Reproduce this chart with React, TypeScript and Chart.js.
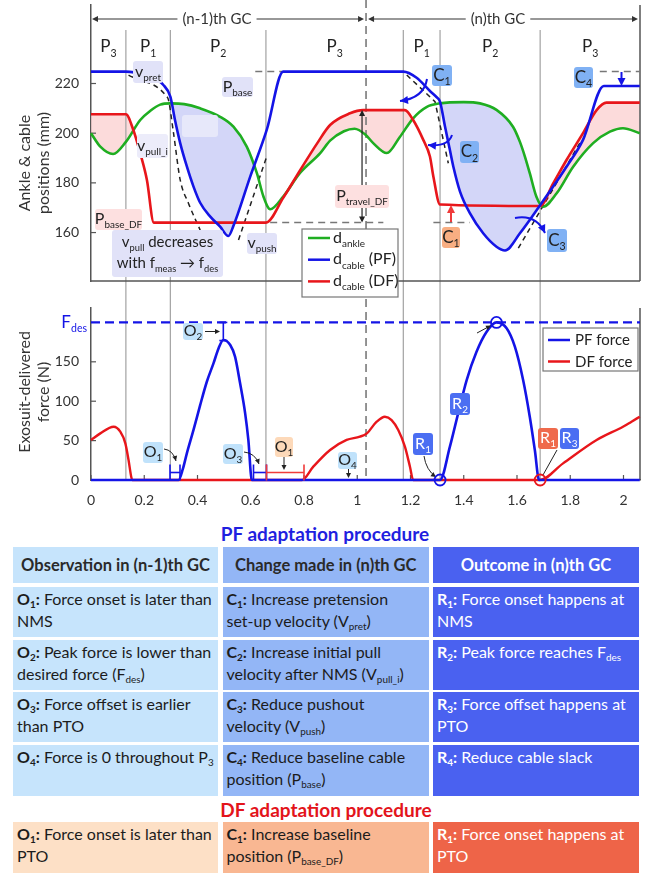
import React, { useEffect, useRef } from 'react';
import { Chart, registerables } from 'chart.js';

Chart.register(...registerables);

const FONT = 'Lato, "Noto Sans", sans-serif';

// ---------------- data ----------------
const timeMax = 2.062;
const timeTicks = [0, 0.2, 0.4, 0.6, 0.8, 1, 1.2, 1.4, 1.6, 1.8, 2];
const posTicks = [160, 180, 200, 220];
const forceTicks = [0, 50, 100, 150];
const posRange = [140.5, 251.6];
const forceRange = [0, 218.3];
const phaseBounds = [0.131, 0.298, 0.657, 1.173, 1.311, 1.687];
const phaseNums = ['3', '1', '2', '3', '1', '2', '3'];
const gcSplit = 1.033;
const fDes = 200;
const peakTime = 1.523;

const ankleT = [0, 0.035, 0.083, 0.131, 0.185, 0.223, 0.26, 0.298, 0.35, 0.41, 0.485, 0.535, 0.585, 0.623, 0.648, 0.673, 0.722, 0.785, 0.861, 0.898, 0.95, 0.99, 1.03, 1.06, 1.111, 1.16, 1.21, 1.26, 1.311, 1.4, 1.461, 1.523, 1.585, 1.611, 1.63, 1.648, 1.673, 1.698, 1.749, 1.811, 1.886, 1.949, 1.998, 2.061];
const ankleMm = [200, 194.6, 191.6, 196.5, 205.3, 209, 211.5, 212, 211.7, 210, 206.6, 202.6, 194.6, 183.9, 174.4, 169.4, 174.5, 184, 192, 197, 200.8, 201.8, 199.5, 196, 192, 198.5, 206, 210.5, 212, 212.5, 212, 209.4, 202.6, 196.5, 190.5, 183.9, 174.4, 170.4, 175.8, 186.5, 196, 200.6, 202, 200];

const pfCableT = [0, 0.131, 0.2, 0.25, 0.271, 0.298, 0.316, 0.335, 0.36, 0.385, 0.41, 0.448, 0.485, 0.516, 0.534, 0.598, 0.66, 0.722, 1.173, 1.223, 1.273, 1.298, 1.311, 1.329, 1.348, 1.361, 1.386, 1.423, 1.473, 1.523, 1.555, 1.611, 1.692, 1.786, 1.848, 1.926, 2.061];
const pfCableMm = [224.8, 224.8, 223.5, 221.3, 219.5, 214.7, 205, 196, 186.6, 178.5, 172, 166.4, 162.4, 158.6, 162.4, 182.5, 201.3, 224.8, 224.8, 222.3, 217, 214.5, 212.6, 203, 193.2, 186.5, 176.5, 167.8, 159.7, 154.3, 152.8, 159.7, 171.8, 186.5, 197.3, 219, 219];

const dfCableT = [0, 0.131, 0.159, 0.185, 0.21, 0.236, 0.657, 0.722, 0.785, 0.85, 0.898, 0.973, 1.022, 1.179, 1.21, 1.248, 1.273, 1.286, 1.311, 1.686, 1.736, 1.786, 1.848, 1.899, 1.936, 2.061];
const dfCableMm = [207.6, 207.6, 201.3, 191.9, 181.2, 164, 164, 174, 185, 196, 203.3, 208, 209.3, 209.3, 205.3, 197.3, 190.6, 182.5, 171.3, 170.7, 179.8, 189.2, 200, 209.3, 212.3, 212.3];

// alternative (dashed) cable trajectories
const pullAltT = [0.141, 0.285, 0.291, 0.31, 0.335, 0.366, 0.41];
const pullAltMm = [223.4, 214.7, 213.4, 200, 181.2, 171.8, 161];
const pushAltT = [0.554, 0.66];
const pushAltMm = [157, 190.6];
const pretAltNT = [1.186, 1.292, 1.342];
const pretAltNMm = [223.4, 212.7, 187.9];
const pushAltNT = [1.605, 1.836];
const pushAltNMm = [153.7, 196];

// reference (baseline) dashed lines
const basePfPrevT = [0.617, 0.722];
const basePfNT = [1.911, 2.061];
const basePfMm = [224.8, 224.8];
const baseDfPrevT = [0.673, 1.098];
const baseDfNT = [1.286, 1.423];
const baseDfMm = [164, 164];

const pfForceT = [0, 0.329, 0.345, 0.36, 0.385, 0.41, 0.435, 0.46, 0.479, 0.497, 0.523, 0.541, 0.56, 0.579, 0.591, 0.604, 1.311, 1.348, 1.379, 1.411, 1.448, 1.486, 1.523, 1.561, 1.592, 1.623, 1.648, 1.667, 1.683, 2.061];
const pfForceN = [0, 0, 14, 33.8, 63.5, 95, 124.7, 148, 167, 177.7, 171.3, 156.5, 122.7, 84.6, 50.8, 0, 0, 42.3, 84.6, 126.9, 162.8, 188.2, 200, 192.5, 169.2, 126.9, 80.3, 38, 0, 0];

const dfForceT = [0, 0.035, 0.085, 0.11, 0.129, 0.141, 0.151, 0.155, 0.792, 0.835, 0.898, 0.96, 1.01, 1.036, 1.073, 1.104, 1.129, 1.154, 1.179, 1.198, 1.21, 1.686, 1.773, 1.899, 1.998, 2.03, 2.061];
const dfForceN = [50.8, 59.2, 67.6, 61.3, 46.5, 25.4, 4.2, 0, 0, 16.9, 38, 50.8, 55, 59.2, 74, 80.3, 76.1, 63.5, 42.3, 16.9, 0, 0, 21.1, 50.8, 67.6, 74, 80.3];

const fDesT = [0, timeMax];
const fDesN = [fDes, fDes];

// ---------------- styles ----------------
const BLUE = '#1414e6';
const RED = '#e8161b';
const GREEN = '#1fae21';
const GRAY = '#555';
const LAV = '#e1e2f8';
const PINKBOX = '#fde0e0';
const CBLUE = '#80b1f4';
const CORANGE = '#f8ae82';
const OBLUE = '#c0e2fb';
const OORANGE = '#fdd9b9';
const RBLUE = '#4b6ef2';
const RORANGE = '#ef6a4c';

const pts = (ts: number[], vs: number[]) => ts.map((t, i) => ({ x: t, y: vs[i] }));

type Seg = [string, number?];

function seg(ctx: CanvasRenderingContext2D, x1: number, y1: number, x2: number, y2: number) {
  ctx.beginPath();
  ctx.moveTo(x1, y1);
  ctx.lineTo(x2, y2);
  ctx.stroke();
}
function head(ctx: CanvasRenderingContext2D, x: number, y: number, ang: number, size: number, color: string) {
  ctx.save();
  ctx.fillStyle = color;
  ctx.translate(x, y);
  ctx.rotate(ang);
  ctx.beginPath();
  ctx.moveTo(0, 0);
  ctx.lineTo(-size, -size * 0.5);
  ctx.lineTo(-size, size * 0.5);
  ctx.closePath();
  ctx.fill();
  ctx.restore();
}
function arrow(ctx: CanvasRenderingContext2D, x1: number, y1: number, x2: number, y2: number, color: string, w = 1.2, size = 6) {
  ctx.save();
  ctx.strokeStyle = color;
  ctx.lineWidth = w;
  const a = Math.atan2(y2 - y1, x2 - x1);
  seg(ctx, x1, y1, x2 - Math.cos(a) * size * 0.7, y2 - Math.sin(a) * size * 0.7);
  head(ctx, x2, y2, a, size, color);
  ctx.restore();
}
function curveArrow(ctx: CanvasRenderingContext2D, x1: number, y1: number, cx: number, cy: number, x2: number, y2: number, color: string, w = 1.2, size = 6) {
  ctx.save();
  ctx.strokeStyle = color;
  ctx.lineWidth = w;
  ctx.beginPath();
  ctx.moveTo(x1, y1);
  ctx.quadraticCurveTo(cx, cy, x2, y2);
  ctx.stroke();
  head(ctx, x2, y2, Math.atan2(y2 - cy, x2 - cx), size, color);
  ctx.restore();
}
function box(ctx: CanvasRenderingContext2D, x: number, y: number, w: number, h: number, fill: string, r = 3) {
  ctx.save();
  ctx.fillStyle = fill;
  ctx.beginPath();
  (ctx as any).roundRect(x, y, w, h, r);
  ctx.fill();
  ctx.restore();
}
function rich(ctx: CanvasRenderingContext2D, segs: Seg[], x: number, cy: number, size: number, color: string, align: 'left' | 'center' | 'right' = 'center', weight = 'normal') {
  const sub = size * 0.62;
  const fonts = segs.map((s) => `${weight} ${s[1] ? sub : size}px ${FONT}`);
  let total = 0;
  const ws = segs.map((s, i) => {
    ctx.font = fonts[i];
    const w = ctx.measureText(s[0]).width;
    total += w;
    return w;
  });
  let x0 = align === 'center' ? x - total / 2 : align === 'right' ? x - total : x;
  const base = cy + size * 0.36;
  ctx.save();
  ctx.fillStyle = color;
  ctx.textAlign = 'left';
  ctx.textBaseline = 'alphabetic';
  segs.forEach((s, i) => {
    ctx.font = fonts[i];
    ctx.fillText(s[0], x0, s[1] ? base + size * 0.26 : base);
    x0 += ws[i];
  });
  ctx.restore();
  return total;
}
function tag(ctx: CanvasRenderingContext2D, x: number, y: number, w: number, h: number, fill: string, segs: Seg[], size: number, color = '#222') {
  box(ctx, x, y, w, h, fill);
  rich(ctx, segs, x + w / 2, y + h / 2 - 1, size, color);
}
function ibeamH(ctx: CanvasRenderingContext2D, x1: number, x2: number, y: number, half: number, color: string) {
  ctx.save();
  ctx.strokeStyle = color;
  ctx.lineWidth = 1.6;
  seg(ctx, x1, y, x2, y);
  seg(ctx, x1, y - half, x1, y + half);
  seg(ctx, x2, y - half, x2, y + half);
  ctx.restore();
}
function vText(ctx: CanvasRenderingContext2D, text: string, x: number, y: number, size: number) {
  ctx.save();
  ctx.translate(x, y);
  ctx.rotate(-Math.PI / 2);
  ctx.font = `${size}px ${FONT}`;
  ctx.fillStyle = '#333';
  ctx.textAlign = 'center';
  ctx.textBaseline = 'middle';
  ctx.fillText(text, 0, 0);
  ctx.restore();
}

const annotations = {
  id: 'annotations',
  beforeDatasetsDraw(chart: any) {
    const { ctx, chartArea: ca, scales } = chart;
    const xs = scales.x;
    const yP = scales.yPos;
    const yF = scales.yF;
    ctx.save();
    ctx.strokeStyle = '#a2a2a2';
    ctx.lineWidth = 1.2;
    phaseBounds.forEach((t) => {
      const x = xs.getPixelForValue(t);
      seg(ctx, x, 30, x, yF.bottom);
    });
    ctx.strokeStyle = '#7a7a7a';
    ctx.lineWidth = 1.6;
    ctx.setLineDash([8, 5]);
    const gx = xs.getPixelForValue(gcSplit);
    seg(ctx, gx, 0, gx, yF.bottom);
    ctx.setLineDash([]);
    ctx.strokeStyle = GRAY;
    ctx.lineWidth = 1.5;
    seg(ctx, ca.left, yP.bottom, ca.right, yP.bottom);
    seg(ctx, ca.right, yP.top, ca.right, yP.bottom);
    seg(ctx, ca.right, yF.top, ca.right, yF.bottom);
    ctx.lineWidth = 1.2;
    posTicks.forEach((v) => {
      const y = yP.getPixelForValue(v);
      seg(ctx, ca.left, y, ca.left + 5, y);
    });
    forceTicks.forEach((v) => {
      const y = yF.getPixelForValue(v);
      seg(ctx, ca.left, y, ca.left + 5, y);
    });
    timeTicks.forEach((t) => {
      const x = xs.getPixelForValue(t);
      seg(ctx, x, yF.bottom, x, yF.bottom - 5);
    });
    ctx.restore();
  },
  afterDatasetsDraw(chart: any) {
    const { ctx, chartArea: ca, scales } = chart;
    const xs = scales.x;
    const yP = scales.yPos;
    const yF = scales.yF;
    ctx.save();

    // axis titles
    vText(ctx, 'Ankle & cable', 25, 163, 16);
    vText(ctx, 'positions (mm)', 44, 163, 16);
    vText(ctx, 'Exosuit-delivered', 25, 392, 16);
    vText(ctx, 'force (N)', 44, 392, 16);

    // gait-cycle arrows
    const gx = xs.getPixelForValue(gcSplit);
    const gcs: [string, number, number, number][] = [
      ['(n-1)th GC', 217, ca.left + 1, gx - 2],
      ['(n)th GC', 498, gx + 2, ca.right - 2],
    ];
    gcs.forEach(([label, cx, l, r]) => {
      ctx.font = `15px ${FONT}`;
      const w = ctx.measureText(label).width;
      ctx.fillStyle = '#333';
      ctx.textAlign = 'center';
      ctx.textBaseline = 'middle';
      ctx.fillText(label, cx, 19);
      arrow(ctx, cx - w / 2 - 5, 19, l, 19, '#333', 1.2, 6);
      arrow(ctx, cx + w / 2 + 5, 19, r, 19, '#333', 1.2, 6);
    });

    // phase labels
    const edges = [0, ...phaseBounds, timeMax];
    phaseNums.forEach((n, i) => {
      const cx = (xs.getPixelForValue(edges[i]) + xs.getPixelForValue(edges[i + 1])) / 2;
      rich(ctx, [['P'], [n, 1]], cx, 46, 17, '#222');
    });

    // ---- top chart labels ----
    tag(ctx, 133, 61, 30, 22, LAV, [['v'], ['pret', 1]], 16);
    tag(ctx, 222, 77, 31, 20, LAV, [['P'], ['base', 1]], 16);
    box(ctx, 182, 115, 36, 22, '#e7e8fa');
    tag(ctx, 137, 134, 31, 24, '#ececfa', [['v'], ['pull_i', 1]], 16);
    tag(ctx, 95, 209, 47, 21, PINKBOX, [['P'], ['base_DF', 1]], 16);
    box(ctx, 112, 230, 111, 47, LAV);
    rich(ctx, [['v'], ['pull', 1], [' decreases']], 167.5, 242, 15, '#222');
    rich(ctx, [['with f'], ['meas', 1], [' \u2192 f'], ['des', 1]], 167.5, 263, 15, '#222');
    tag(ctx, 247, 233, 30, 21, LAV, [['v'], ['push', 1]], 16);

    // travel arrow + label
    const tx = xs.getPixelForValue(1.018);
    ctx.strokeStyle = '#222';
    ctx.lineWidth = 1.2;
    seg(ctx, tx, yP.getPixelForValue(208.5), tx, yP.getPixelForValue(164.8));
    head(ctx, tx, yP.getPixelForValue(209.3), -Math.PI / 2, 6, '#222');
    head(ctx, tx, yP.getPixelForValue(164), Math.PI / 2, 6, '#222');
    tag(ctx, 335, 185, 54, 23, PINKBOX, [['P'], ['travel_DF', 1]], 16);

    // C labels
    tag(ctx, 432, 65, 20, 21, CBLUE, [['C'], ['1', 1]], 17);
    curveArrow(ctx, 427, 79, 424, 98, 400, 101, BLUE, 2, 8);
    tag(ctx, 460, 141, 19, 22, CBLUE, [['C'], ['2', 1]], 17);
    curveArrow(ctx, 452, 135, 448, 147, 428, 145, BLUE, 2, 8);
    tag(ctx, 442, 227, 18, 21, CORANGE, [['C'], ['1', 1]], 17);
    arrow(ctx, 451, 222, 451, 205, '#f03a3a', 2, 8);
    tag(ctx, 547, 229, 20, 23, CBLUE, [['C'], ['3', 1]], 17);
    curveArrow(ctx, 515, 218, 536, 214, 545, 233, BLUE, 2, 8);
    tag(ctx, 574, 67, 19, 21, CBLUE, [['C'], ['4', 1]], 17);
    arrow(ctx, 621.5, 72, 621.5, 86, BLUE, 2, 8);

    // top legend
    ctx.fillStyle = '#fff';
    ctx.fillRect(302, 229, 96, 68);
    ctx.strokeStyle = '#777';
    ctx.lineWidth = 1.2;
    ctx.strokeRect(302, 229, 96, 68);
    const leg: [string, Seg[]][] = [
      [GREEN, [['d'], ['ankle', 1]]],
      [BLUE, [['d'], ['cable', 1], [' (PF)']]],
      [RED, [['d'], ['cable', 1], [' (DF)']]],
    ];
    leg.forEach(([c, s], i) => {
      const y = 238 + i * 21.7;
      ctx.strokeStyle = c;
      ctx.lineWidth = 2.5;
      seg(ctx, 308, y, 330, y);
      rich(ctx, s, 333, y - 1, 16, '#222', 'left');
    });

    // ---- force chart labels ----
    rich(ctx, [['F'], ['des', 1]], 87, yF.getPixelForValue(fDes) - 1, 17, BLUE, 'right');

    tag(ctx, 183, 323, 20, 17, OBLUE, [['O'], ['2', 1]], 16);
    arrow(ctx, 205, 331.5, 220, 331.5, '#222', 1, 5);
    const px = xs.getPixelForValue(0.497);
    ctx.strokeStyle = BLUE;
    ctx.lineWidth = 1.6;
    seg(ctx, px, yF.getPixelForValue(fDes), px, yF.getPixelForValue(177));
    seg(ctx, px - 4, yF.getPixelForValue(fDes), px + 4, yF.getPixelForValue(fDes));
    seg(ctx, px - 4, yF.getPixelForValue(177), px + 4, yF.getPixelForValue(177));

    tag(ctx, 143, 442, 20, 21, OBLUE, [['O'], ['1', 1]], 16);
    curveArrow(ctx, 164, 449, 173, 450, 176, 461, '#222', 1, 5);
    ibeamH(ctx, 170, 180, 472.5, 8, BLUE);
    tag(ctx, 223, 444, 20, 20, OBLUE, [['O'], ['3', 1]], 16);
    curveArrow(ctx, 244, 452, 255, 453, 259, 464, '#222', 1, 5);
    ibeamH(ctx, 253.5, 266.5, 472.5, 8, BLUE);
    ibeamH(ctx, 266.5, 304, 472.5, 8, '#f03a3a');
    tag(ctx, 275, 437, 18, 20, OORANGE, [['O'], ['1', 1]], 16);
    arrow(ctx, 284, 457, 284, 470, '#222', 1, 5);
    tag(ctx, 338, 452, 19, 17, OBLUE, [['O'], ['4', 1]], 16);
    arrow(ctx, 348.5, 469, 348.5, 478, '#222', 1, 5);

    tag(ctx, 413, 433, 20, 22, RBLUE, [['R'], ['1', 1]], 16, '#fff');
    curveArrow(ctx, 424, 456, 426, 470, 436, 477, '#222', 1, 5);
    tag(ctx, 450, 393, 20, 22, RBLUE, [['R'], ['2', 1]], 16, '#fff');
    arrow(ctx, 477, 333, 491, 325.5, '#222', 1, 5);
    tag(ctx, 538, 428, 20, 21, RORANGE, [['R'], ['1', 1]], 16, '#fff');
    tag(ctx, 560, 428, 19, 21, RBLUE, [['R'], ['3', 1]], 16, '#fff');
    ctx.strokeStyle = '#222';
    ctx.lineWidth = 1;
    seg(ctx, 557, 450, 543, 475);

    const circ = (t: number, v: number, c: string) => {
      ctx.strokeStyle = c;
      ctx.lineWidth = 1.8;
      ctx.beginPath();
      ctx.arc(xs.getPixelForValue(t), yF.getPixelForValue(v), 5.5, 0, Math.PI * 2);
      ctx.stroke();
    };
    circ(phaseBounds[4], 0, BLUE);
    circ(peakTime, fDes, BLUE);
    circ(phaseBounds[5], 0, RED);

    // force legend
    ctx.fillStyle = '#fff';
    ctx.fillRect(543, 328, 95, 43);
    ctx.strokeStyle = '#777';
    ctx.lineWidth = 1.2;
    ctx.strokeRect(543, 328, 95, 43);
    const leg2: [string, string][] = [[BLUE, 'PF force'], [RED, 'DF force']];
    leg2.forEach(([c, s], i) => {
      const y = 340 + i * 21.5;
      ctx.strokeStyle = c;
      ctx.lineWidth = 2.5;
      seg(ctx, 548, y, 570, y);
      rich(ctx, [[s]], 575, y, 15, '#222', 'left');
    });

    ctx.restore();
  },
};

const S = ({ children }: { children: React.ReactNode }) => (
  <span style={{ fontSize: '0.62em', verticalAlign: '-0.32em', lineHeight: 0 }}>{children}</span>
);

const headerCells = ['Observation in (n-1)th GC', 'Change made in (n)th GC', 'Outcome in (n)th GC'];

const pfRows: React.ReactNode[][] = [
  [
    <><b>O<S>1</S>:</b> Force onset is later than<br />NMS</>,
    <><b>C<S>1</S>:</b> Increase pretension<br />set-up velocity (V<S>pret</S>)</>,
    <><b>R<S>1</S>:</b> Force onset happens at<br />NMS</>,
  ],
  [
    <><b>O<S>2</S>:</b> Peak force is lower than<br />desired force (F<S>des</S>)</>,
    <><b>C<S>2</S>:</b> Increase initial pull<br />velocity after NMS (V<S>pull_i</S>)</>,
    <><b>R<S>2</S>:</b> Peak force reaches F<S>des</S></>,
  ],
  [
    <><b>O<S>3</S>:</b> Force offset is earlier<br />than PTO</>,
    <><b>C<S>3</S>:</b> Reduce pushout<br />velocity (V<S>push</S>)</>,
    <><b>R<S>3</S>:</b> Force offset happens at<br />PTO</>,
  ],
  [
    <><b>O<S>4</S>:</b> Force is 0 throughout P<S>3</S></>,
    <><b>C<S>4</S>:</b> Reduce baseline cable<br />position (P<S>base</S>)</>,
    <><b>R<S>4</S>:</b> Reduce cable slack</>,
  ],
];

const dfRow: React.ReactNode[] = [
  <><b>O<S>1</S>:</b> Force onset is later than<br />PTO</>,
  <><b>C<S>1</S>:</b> Increase baseline<br />position (P<S>base_DF</S>)</>,
  <><b>R<S>1</S>:</b> Force onset happens at<br />PTO</>,
];

const colLeft = [13, 222.5, 433];
const colW = [205, 206.5, 206];
const rowTop = [547, 587, 640, 692, 745];
const rowH = [36, 50, 50, 50, 51];
const pfColors = ['#c6e4fc', '#93b6f6', '#4a61f0'];
const dfColors = ['#fde0c6', '#f9b792', '#ee6448'];

export default function App() {
  const ref = useRef<HTMLCanvasElement>(null);

  useEffect(() => {
    const line = (data: any[], color: string, width: number, axis: string, extra: any = {}) => ({
      data,
      borderColor: color,
      backgroundColor: color,
      borderWidth: width,
      yAxisID: axis,
      pointRadius: 0,
      fill: false,
      clip: 6,
      cubicInterpolationMode: 'monotone',
      ...extra,
    });
    const dash = (data: any[], color: string, d: number[], w = 1.5) =>
      line(data, color, w, 'yPos', { borderDash: d, cubicInterpolationMode: 'default', tension: 0 });

    const fitY = (s: any) => {
      s.width = 91;
      s.paddingTop = 0;
      s.paddingBottom = 0;
    };

    const chart = new Chart(ref.current as HTMLCanvasElement, {
      type: 'line',
      data: {
        datasets: [
          line(pts(pfCableT, pfCableMm), BLUE, 2.6, 'yPos', {
            fill: { target: 2, above: 'rgba(0,0,0,0)', below: 'rgba(196,200,246,0.75)' },
          }),
          line(pts(dfCableT, dfCableMm), RED, 2.6, 'yPos', {
            fill: { target: 2, above: 'rgba(250,200,200,0.65)', below: 'rgba(0,0,0,0)' },
          }),
          line(pts(ankleT, ankleMm), GREEN, 2.6, 'yPos'),
          line(pts(pullAltT, pullAltMm), '#222', 1.5, 'yPos', { borderDash: [5, 4] }),
          dash(pts(pushAltT, pushAltMm), '#222', [5, 4]),
          dash(pts(pretAltNT, pretAltNMm), '#222', [5, 4]),
          dash(pts(pushAltNT, pushAltNMm), '#222', [5, 4]),
          dash(pts(basePfPrevT, basePfMm), '#777', [7, 5]),
          dash(pts(baseDfPrevT, baseDfMm), '#777', [7, 5]),
          dash(pts(baseDfNT, baseDfMm), '#777', [7, 5]),
          dash(pts(basePfNT, basePfMm), '#777', [7, 5]),
          line(pts(pfForceT, pfForceN), BLUE, 2.6, 'yF'),
          line(pts(dfForceT, dfForceN), RED, 2.4, 'yF'),
          line(pts(fDesT, fDesN), BLUE, 2.4, 'yF', { borderDash: [9, 5], cubicInterpolationMode: 'default', tension: 0 }),
        ] as any,
      },
      options: {
        animation: false,
        responsive: true,
        maintainAspectRatio: false,
        layout: { padding: { left: 0, right: 17, top: 5, bottom: 0 } },
        plugins: {
          legend: { display: false },
          tooltip: { enabled: false },
          filler: { drawTime: 'beforeDatasetsDraw' } as any,
        },
        scales: {
          x: {
            type: 'linear',
            min: 0,
            max: timeMax,
            afterBuildTicks: (s: any) => {
              s.ticks = timeTicks.map((v) => ({ value: v }));
            },
            ticks: {
              font: { family: FONT, size: 14 },
              color: '#333',
              padding: 4,
              maxRotation: 0,
              autoSkip: false,
              callback: (v: any) => String(v),
            },
            grid: { display: false },
            border: { color: GRAY, width: 1.5 },
            afterFit: (s: any) => {
              s.height = 30;
              s.paddingLeft = 0;
              s.paddingRight = 0;
            },
          },
          yPos: {
            type: 'linear',
            position: 'left',
            stack: 'v',
            stackWeight: 276,
            weight: 3,
            min: posRange[0],
            max: posRange[1],
            afterBuildTicks: (s: any) => {
              s.ticks = posTicks.map((v) => ({ value: v }));
            },
            ticks: { font: { family: FONT, size: 14 }, color: '#333', padding: 4 },
            grid: { display: false },
            border: { color: GRAY, width: 1.5 },
            afterFit: fitY,
          },
          yGap: {
            type: 'linear',
            position: 'left',
            stack: 'v',
            stackWeight: 27,
            weight: 2,
            min: 0,
            max: 1,
            ticks: { display: false },
            grid: { display: false },
            border: { display: false },
            afterFit: fitY,
          },
          yF: {
            type: 'linear',
            position: 'left',
            stack: 'v',
            stackWeight: 172,
            weight: 1,
            min: forceRange[0],
            max: forceRange[1],
            afterBuildTicks: (s: any) => {
              s.ticks = forceTicks.map((v) => ({ value: v }));
            },
            ticks: { font: { family: FONT, size: 14 }, color: '#333', padding: 4 },
            grid: { display: false },
            border: { color: GRAY, width: 1.5 },
            afterFit: fitY,
          },
        } as any,
      },
      plugins: [annotations as any],
    });
    return () => chart.destroy();
  }, []);

  const cell = (left: number, top: number, w: number, h: number, bg: string, color: string, content: React.ReactNode, header = false, key?: string) => (
    <div
      key={key}
      style={{
        position: 'absolute',
        left,
        top,
        width: w,
        height: h,
        background: bg,
        color,
        boxSizing: 'border-box',
        padding: header ? 0 : '1px 4px',
        fontSize: header ? 16.5 : 16,
        lineHeight: header ? `${h}px` : '22px',
        textAlign: header ? 'center' : 'left',
        fontWeight: header ? 700 : 400,
        whiteSpace: 'nowrap',
        overflow: 'hidden',
      }}
    >
      {content}
    </div>
  );

  return (
    <div style={{ position: 'absolute', left: 0, top: 0, width: 657, height: 874, background: '#fff', fontFamily: FONT }}>
      <div style={{ position: 'absolute', left: 0, top: 0, width: 657, height: 510 }}>
        <canvas ref={ref} />
      </div>
      <div style={{ position: 'absolute', left: 0, top: 523, width: 650, textAlign: 'center', fontWeight: 700, fontSize: 19, lineHeight: '22px', color: '#1f1fe0' }}>
        PF adaptation procedure
      </div>
      {headerCells.map((h, c) =>
        cell(colLeft[c], rowTop[0], colW[c], rowH[0], pfColors[c], c === 2 ? '#fff' : '#2a2a2a', h, true, 'h' + c)
      )}
      {pfRows.map((row, r) =>
        row.map((content, c) =>
          cell(colLeft[c], rowTop[r + 1], colW[c], rowH[r + 1], pfColors[c], c === 2 ? '#fff' : '#1c1c1c', content, false, `r${r}c${c}`)
        )
      )}
      <div style={{ position: 'absolute', left: 0, top: 799, width: 652, textAlign: 'center', fontWeight: 700, fontSize: 19, lineHeight: '22px', color: '#e3141b' }}>
        DF adaptation procedure
      </div>
      {dfRow.map((content, c) =>
        cell(colLeft[c], 822, colW[c], 51, dfColors[c], c === 2 ? '#fff' : '#1c1c1c', content, false, 'df' + c)
      )}
    </div>
  );
}
